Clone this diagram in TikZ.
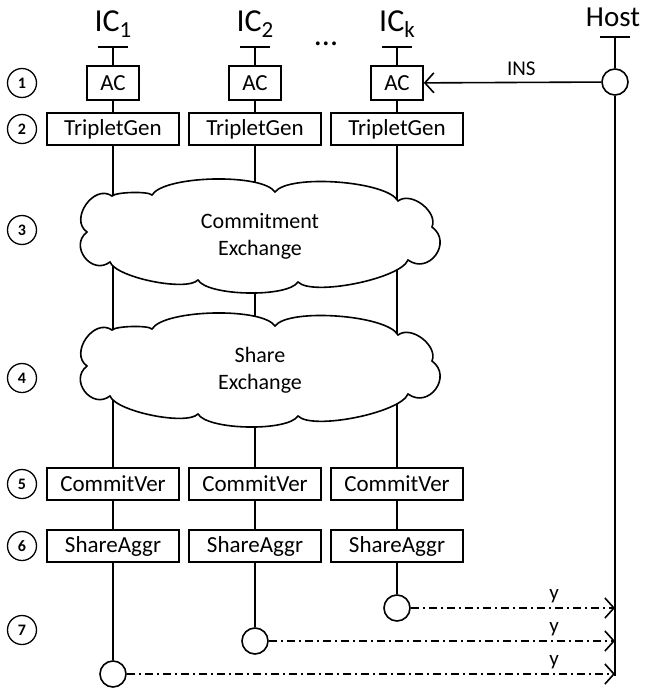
\documentclass[tikz,border=0pt]{standalone}
\usepackage{fontspec}
\setmainfont{Carlito}
\usetikzlibrary{arrows.meta}
\begin{document}
\begin{tikzpicture}[x=1pt,y=-1pt,
  line width=1.6pt,
  box/.style={draw,fill=white,minimum height=32pt,inner sep=0pt,font=\fontsize{23}{26}\selectfont},
  wide/.style={box,minimum width=132pt},
  acbox/.style={box,minimum width=52pt,minimum height=34pt},
  stepnum/.style={draw,circle,minimum size=29pt,inner sep=0pt,line width=1.3pt,font=\bfseries\fontsize{16}{16}\selectfont},
  endc/.style={draw,circle,fill=white,minimum size=26pt,inner sep=0pt},
  cloudtext/.style={align=center,inner sep=0pt,font=\fontsize{22}{27}\selectfont},
  head/.style={font=\fontsize{32}{32}\selectfont,inner sep=0pt},
  lbl/.style={font=\fontsize{21}{21}\selectfont,inner sep=0pt},
  dashdot/.style={line width=1.4pt,dash pattern=on 8pt off 4pt on 2pt off 4pt,-{Straight Barb[length=9pt,width=20pt,line width=1.6pt]}},
  barb/.style={-{Straight Barb[length=9pt,width=20pt,line width=1.6pt]}},
  mycloud/.pic={
    \draw[fill=white]
      (-148,-40) .. controls (-144,-44) and (-112,-45) .. (-108,-41)
      .. controls (-96.2,-60.6) and (2.2,-63) .. (15,-44)
      .. controls (28.7,-62.3) and (127.1,-55.1) .. (138,-35)
      .. controls (151.1,-45.1) and (178.3,-24.3) .. (172,-9)
      .. controls (193,6.3) and (169,39.3) .. (148,24)
      .. controls (140.3,42.9) and (52.3,60.5) .. (38,46)
      .. controls (27.7,61.8) and (-52.3,60.2) .. (-62,44)
      .. controls (-73.6,55.9) and (-144,41.5) .. (-150,26)
      .. controls (-168.3,40) and (-191.3,10) .. (-173,-4)
      .. controls (-191.1,-16.6) and (-166.1,-52.6) .. (-148,-40) -- cycle;
  },
]
\useasboundingbox (0,0) rectangle (645,693);

% headers
\node[head] (h1) at (113,24) {IC\raisebox{-6pt}{\fontsize{23}{23}\selectfont 1}};
\node[head] (h2) at (255,24) {IC\raisebox{-6pt}{\fontsize{23}{23}\selectfont 2}};
\node[head] (hk) at (397,24) {IC\raisebox{-6pt}{\fontsize{23}{23}\selectfont k}};
\node[head] (dots) at (326,44) {...};
\node[font=\fontsize{29}{29}\selectfont,inner sep=0pt] (hh) at (613,17) {Host};

% ticks
\coordinate (t1) at (113,47); \coordinate (t2) at (255,47); \coordinate (tk) at (397,47);
\coordinate (th) at (615,37);
\foreach \t in {t1,t2,tk,th} \draw ([xshift=-15pt]\t) -- ([xshift=15pt]\t);

% step numbers
\foreach \n/\y in {1/83,2/129,3/230,4/378,5/484,6/546,7/630}
  \node[stepnum] (s\n) at (22,\y) {\n};

% boxes
\foreach \c/\x in {1/113,2/255,k/397}{
  \node[acbox] (ac\c) at (\x,83) {AC};
  \node[wide] (tg\c) at (\x,129) {TripletGen};
  \node[wide] (cv\c) at (\x,484) {CommitVer};
  \node[wide] (sa\c) at (\x,546) {ShareAggr};
}
\node[endc] (e1) at (113,674) {};
\node[endc] (e2) at (255,641) {};
\node[endc] (ek) at (397,608) {};

\foreach \c in {1,2,k}{
  \draw (t\c) -- (ac\c);
  \draw (ac\c) -- (tg\c);
  \draw (tg\c) -- (cv\c);
  \draw (cv\c) -- (sa\c);
  \draw (sa\c) -- (e\c);
}

% host
\node[endc] (hc) at (615,82) {};
\coordinate (hb) at (615,676);
\draw (th) -- (hc);
\draw (hc) -- (hb);
\draw[barb] (hc) -- node[lbl,above=6pt,pos=0.45] {INS} (ack);

% clouds
\pic at (260,236) {mycloud};
\node[cloudtext] (cl1) at (260,236) {Commitment\\Exchange};
\pic at (260,370) {mycloud};
\node[cloudtext] (cl2) at (260,370) {Share\\Exchange};

% outputs
\coordinate (y1) at (615,674);
\coordinate (y2) at (615,641);
\coordinate (yk) at (615,608);
\foreach \c in {1,2,k}{
  \draw[dashdot] (e\c) -- (y\c);
  \node[lbl] at ([xshift=-61pt,yshift=12pt]y\c) {y};
}
\end{tikzpicture}
\end{document}
